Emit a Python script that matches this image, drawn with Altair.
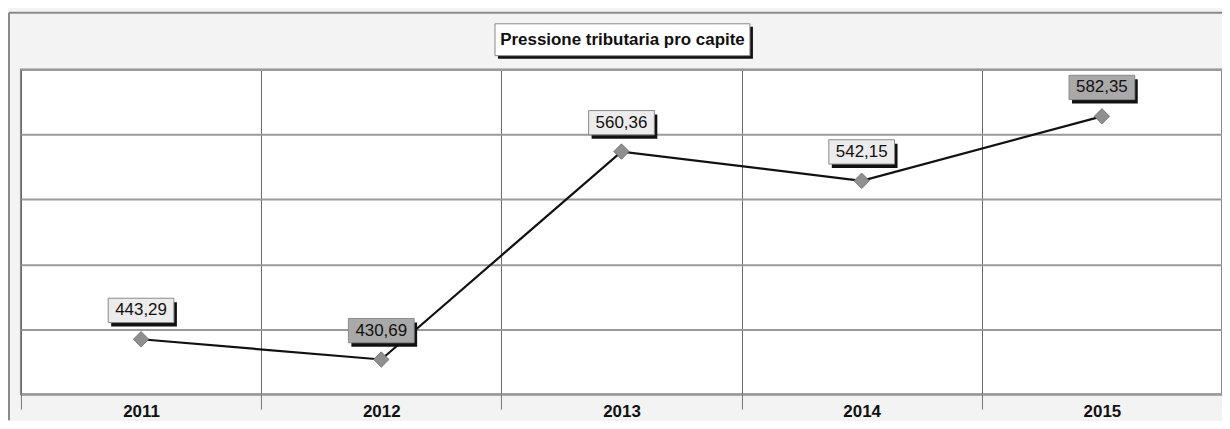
import altair as alt
import pandas as pd

years = ["2011", "2012", "2013", "2014", "2015"]
values = [443.29, 430.69, 560.36, 542.15, 582.35]
dark_label_years = ["2012", "2015"]
title_text = "Pressione tributaria pro capite"

df = pd.DataFrame({"year": years, "value": values})
df["label"] = [f"{v:.2f}".replace(".", ",") for v in values]

FONT = "Liberation Sans"
y_dom = [409, 611.5]
grid_vals = [409, 449.5, 490, 530.5, 571, 611.5]

x_enc = alt.X(
    "year:O",
    scale=alt.Scale(type="band", paddingInner=0, paddingOuter=0),
    bandPosition=0.5,
    axis=alt.Axis(
        title=None, grid=True, tickBand="extent", gridColor="#666666", gridWidth=1,
        ticks=True, tickSize=15, tickColor="#777777", domain=False,
        labelFont=FONT, labelFontSize=17, labelFontWeight="bold", labelColor="#111111",
        labelPadding=-6, labelAngle=0,
    ),
)
y_enc = alt.Y(
    "value:Q",
    scale=alt.Scale(domain=y_dom, nice=False, zero=False),
    axis=alt.Axis(title=None, labels=False, ticks=False, domain=False, values=grid_vals,
                  gridColor="#9a9a9a", gridWidth=2),
)

base = alt.Chart(df).encode(x=x_enc, y=y_enc)

line = base.mark_line(color="#111111", strokeWidth=2.2)
pts = base.mark_point(shape="diamond", filled=True, size=240, opacity=1,
                      color="#8f8f8f", stroke="#6a6a6a", strokeWidth=0.8)

box_path = "M-1,-0.37H1V0.37H-1Z"
shadow = base.mark_point(shape=box_path, size=4356, filled=True, opacity=1,
                         color="#111111", xOffset=3, yOffset=-25)
box = base.mark_point(shape=box_path, size=4356, filled=True, opacity=1,
                      stroke="#8a8a8a", strokeWidth=1, yOffset=-29).encode(
    fill=alt.condition(alt.FieldOneOfPredicate(field="year", oneOf=dark_label_years),
                       alt.value("#a9a9a9"), alt.value("#ececec"))
)
txt = base.mark_text(font=FONT, fontSize=17, color="#111111", yOffset=-29,
                     baseline="middle").encode(text="label:N")

one = alt.Chart(pd.DataFrame({"k": [0], "t": [title_text]}))
title_shadow = one.mark_rect(color="#111111").encode(
    x=alt.value(479), x2=alt.value(735), y=alt.value(-43), y2=alt.value(-11))
title_box = one.mark_rect(fill="#ffffff", stroke="#888888", strokeWidth=1).encode(
    x=alt.value(476), x2=alt.value(732), y=alt.value(-46), y2=alt.value(-14))
title = one.mark_text(font=FONT, fontSize=17, fontWeight="bold", color="#111111",
                      align="center", baseline="middle").encode(
    x=alt.value(604), y=alt.value(-30), text="t:N")
frame_v = one.mark_rule(color="#8a8a8a", strokeWidth=2).encode(
    x=alt.value(-12), y=alt.value(-57), y2=alt.value(352))
frame_h = one.mark_rule(color="#8a8a8a", strokeWidth=2).encode(
    x=alt.value(-12), x2=alt.value(1230), y=alt.value(-57))

chart = alt.layer(
    frame_v, frame_h, title_shadow, title_box, title, line, pts, shadow, box, txt
).properties(
    width=1206, height=326,
    autosize=alt.AutoSizeParams(type="none"),
    padding={"left": 13, "top": 61, "right": 0, "bottom": 26},
    background="#f3f3f3",
).configure_view(
    fill="#ffffff", stroke="#8a8a8a", strokeWidth=2
)

chart.save("out.html", embed_options={"renderer": "svg", "actions": False})
